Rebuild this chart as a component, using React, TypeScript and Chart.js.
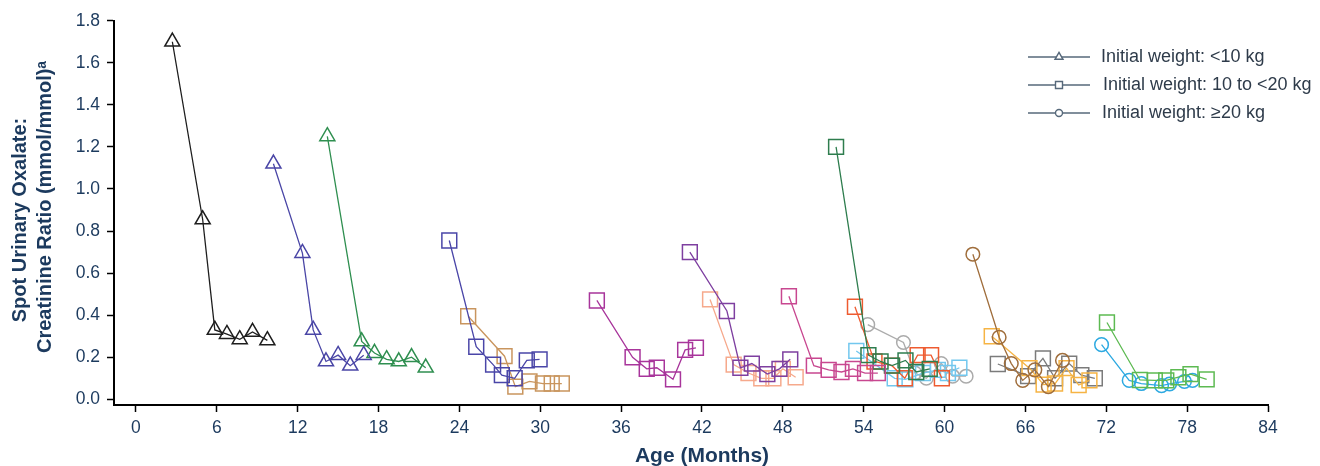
import React, { useEffect, useRef } from "react";
import { Chart, registerables } from "chart.js";

Chart.register(...registerables);

// ---- axis ticks ----
const xTickValues = [0, 6, 12, 18, 24, 30, 36, 42, 48, 54, 60, 66, 72, 78, 84];
const yTickValues = [0, 0.2, 0.4, 0.6, 0.8, 1.0, 1.2, 1.4, 1.6, 1.8];

// ---- labels ----
const xTitle = "Age (Months)";
const yTitleLines = ["Spot Urinary Oxalate:", "Creatinine Ratio (mmol/mmol)\u1d43"];
const groupLabels = ["Initial weight: <10 kg", "Initial weight: 10 to <20 kg", "Initial weight: \u226520 kg"];

// ---- patient data (age in months, ratio in mmol/mmol) ----
const p01Age = [2.7, 4.95, 5.85, 6.75, 7.7, 8.65, 9.75];
const p01Ratio = [1.7, 0.855, 0.33, 0.31, 0.285, 0.32, 0.28];
const p02Age = [10.2, 12.35, 13.15, 14.1, 15.0, 15.9, 16.9];
const p02Ratio = [1.12, 0.695, 0.33, 0.18, 0.21, 0.16, 0.21];
const p03Age = [14.2, 16.75, 17.7, 18.6, 19.5, 20.45, 21.5];
const p03Ratio = [1.25, 0.275, 0.22, 0.19, 0.18, 0.2, 0.15];
const p04Age = [23.25, 25.25, 26.5, 27.15, 28.1, 29.0, 29.95];
const p04Ratio = [0.755, 0.25, 0.165, 0.115, 0.1, 0.185, 0.19];
const p05Age = [24.65, 27.35, 28.15, 29.2, 30.2, 30.85, 31.6];
const p05Ratio = [0.395, 0.205, 0.06, 0.085, 0.075, 0.075, 0.075];
const p06Age = [34.2, 36.85, 37.9, 38.65, 39.85, 40.75, 41.55];
const p06Ratio = [0.47, 0.2, 0.145, 0.15, 0.095, 0.235, 0.245];
const p07Age = [41.1, 43.85, 44.85, 45.7, 46.85, 47.75, 48.55];
const p07Ratio = [0.7, 0.42, 0.15, 0.17, 0.12, 0.145, 0.19];
const p08Age = [42.6, 44.35, 45.45, 46.4, 47.3, 48.0, 48.95];
const p08Ratio = [0.475, 0.165, 0.125, 0.1, 0.1, 0.145, 0.105];
const p09Age = [48.45, 50.3, 51.4, 52.35, 53.2, 54.1, 55.05];
const p09Ratio = [0.49, 0.16, 0.14, 0.13, 0.145, 0.125, 0.125];
const p10Age = [51.95, 54.35, 55.25, 56.1, 57.1, 57.9, 58.9];
const p10Ratio = [1.2, 0.21, 0.18, 0.16, 0.185, 0.13, 0.145];
const p11Age = [53.35, 54.8, 56.1, 57.05, 58.0, 59.0, 59.8];
const p11Ratio = [0.44, 0.18, 0.16, 0.1, 0.21, 0.21, 0.1];
const p12Age = [53.45, 56.3, 57.1, 58.4, 59.5, 60.25, 61.1];
const p12Ratio = [0.23, 0.1, 0.095, 0.125, 0.14, 0.125, 0.15];
const p13Age = [54.3, 56.95, 57.8, 58.65, 59.75, 60.6, 61.6];
const p13Ratio = [0.355, 0.27, 0.125, 0.1, 0.17, 0.11, 0.11];
const p14Age = [62.1, 64.05, 64.95, 65.8, 66.7, 67.7, 68.75];
const p14Ratio = [0.69, 0.295, 0.17, 0.09, 0.14, 0.06, 0.185];
const p15Age = [63.5, 66.3, 67.35, 68.2, 69.05, 69.95, 70.75];
const p15Ratio = [0.3, 0.148, 0.07, 0.075, 0.148, 0.068, 0.09];
const p16Age = [63.95, 66.2, 67.3, 68.2, 69.25, 70.15, 71.15];
const p16Ratio = [0.168, 0.11, 0.195, 0.1, 0.17, 0.115, 0.1];
const p17Age = [72.05, 74.5, 75.6, 76.45, 77.35, 78.25, 79.45];
const p17Ratio = [0.365, 0.092, 0.09, 0.09, 0.105, 0.12, 0.095];
const p18Age = [71.65, 73.7, 74.6, 76.1, 76.7, 77.8, 78.4];
const p18Ratio = [0.26, 0.09, 0.075, 0.065, 0.073, 0.085, 0.09];

// weight group of each patient: 0 = <10 kg, 1 = 10 to <20 kg, 2 = >=20 kg
const patientGroups = [0, 0, 0, 1, 1, 1, 1, 1, 1, 1, 1, 1, 2, 2, 1, 1, 1, 2];
const patientAges = [p01Age, p02Age, p03Age, p04Age, p05Age, p06Age, p07Age, p08Age, p09Age, p10Age, p11Age, p12Age, p13Age, p14Age, p15Age, p16Age, p17Age, p18Age];
const patientRatios = [p01Ratio, p02Ratio, p03Ratio, p04Ratio, p05Ratio, p06Ratio, p07Ratio, p08Ratio, p09Ratio, p10Ratio, p11Ratio, p12Ratio, p13Ratio, p14Ratio, p15Ratio, p16Ratio, p17Ratio, p18Ratio];

// ---- styles ----
const patientColors = [
  "#1e1e1e", "#4a46a6", "#2f8f50", "#4a46a8", "#c9955e", "#a8359b",
  "#7e3fa0", "#f6a98c", "#c84790", "#2e7d4e", "#ee5b30", "#72c7ee",
  "#ababab", "#a06e3c", "#f6b444", "#7b7b7b", "#5dba52", "#2da9e1",
];
const groupStyles = ["triangle", "rect", "circle"];
const groupRadius = [8.7, 10.5, 6.8];
const navy = "#1c3a5e";
const FONT = "'Liberation Sans', Arial, Helvetica, sans-serif";

const titlesAndLegend = {
  id: "titlesAndLegend",
  afterDraw(chart: any) {
    const ctx = chart.ctx;
    const xs = chart.scales.x;
    ctx.save();
    // x title
    ctx.fillStyle = navy;
    ctx.font = `bold 21px ${FONT}`;
    ctx.textAlign = "center";
    ctx.textBaseline = "alphabetic";
    ctx.fillText(xTitle, xs.getPixelForValue(42), 462);
    // y title
    const yCenters = [[20, 220], [45, 207]];
    ctx.font = `bold 20px ${FONT}`;
    ctx.textBaseline = "middle";
    yTitleLines.forEach((t, i) => {
      ctx.save();
      ctx.translate(yCenters[i][0], yCenters[i][1]);
      ctx.rotate(-Math.PI / 2);
      ctx.fillText(t, 0, 0);
      ctx.restore();
    });
    // legend
    const legendColor = "#56687a";
    const rows = [57, 85, 113];
    const textX = [1101, 1103, 1102];
    groupLabels.forEach((lab, i) => {
      const y = rows[i];
      ctx.strokeStyle = legendColor;
      ctx.lineWidth = 1.4;
      ctx.beginPath();
      ctx.moveTo(1028, y);
      ctx.lineTo(1090, y);
      ctx.stroke();
      ctx.fillStyle = "#ffffff";
      ctx.beginPath();
      const mx = 1059;
      if (i === 0) {
        ctx.moveTo(mx, y - 4.6);
        ctx.lineTo(mx + 4, y + 2.3);
        ctx.lineTo(mx - 4, y + 2.3);
        ctx.closePath();
      } else if (i === 1) {
        ctx.rect(mx - 3.5, y - 3.5, 7, 7);
      } else {
        ctx.arc(mx, y, 3.5, 0, Math.PI * 2);
      }
      ctx.fill();
      ctx.stroke();
      ctx.fillStyle = "#2e3b4a";
      ctx.font = `18px ${FONT}`;
      ctx.textAlign = "left";
      ctx.textBaseline = "middle";
      ctx.fillText(lab, textX[i], y);
    });
    ctx.restore();
  },
};

export default function App() {
  const ref = useRef<HTMLCanvasElement>(null);
  useEffect(() => {
    const datasets = patientAges.map((ages, i) => {
      const g = patientGroups[i];
      return {
        label: `Patient ${i + 1}`,
        data: ages.map((a, j) => ({ x: a, y: patientRatios[i][j] })),
        borderColor: patientColors[i],
        borderWidth: 1.3,
        pointStyle: groupStyles[g],
        pointRadius: groupRadius[g],
        pointBorderWidth: 1.5,
        pointBorderColor: patientColors[i],
        pointBackgroundColor: "rgba(255,255,255,0)",
        fill: false,
        tension: 0,
      };
    });
    const chart = new Chart(ref.current as HTMLCanvasElement, {
      type: "line",
      data: { datasets } as any,
      plugins: [titlesAndLegend],
      options: {
        animation: false,
        responsive: true,
        maintainAspectRatio: false,
        layout: { padding: { left: 0, right: 52, top: 20.7, bottom: 0 } },
        plugins: { legend: { display: false }, tooltip: { enabled: false }, title: { display: false } },
        scales: {
          x: {
            type: "linear",
            min: -1.63,
            max: 84,
            afterBuildTicks: (s: any) => {
              s.ticks = xTickValues.map((v) => ({ value: v }));
            },
            afterFit: (s: any) => {
              s.height = 61;
              s.paddingLeft = 0;
              s.paddingRight = 0;
            },
            grid: { drawOnChartArea: false, drawTicks: true, tickLength: 7, tickWidth: 1.5, tickColor: "#000" },
            border: { display: true, color: "#000", width: 2 },
            ticks: {
              autoSkip: false,
              maxRotation: 0,
              padding: 6,
              color: navy,
              font: { family: FONT, size: 17.5 },
              callback: (v: any) => String(v),
            },
          },
          y: {
            type: "linear",
            min: -0.027,
            max: 1.8,
            afterBuildTicks: (s: any) => {
              s.ticks = yTickValues.map((v) => ({ value: v }));
            },
            afterFit: (s: any) => {
              s.width = 114;
              s.paddingTop = 0;
              s.paddingBottom = 0;
            },
            grid: { drawOnChartArea: false, drawTicks: true, tickLength: 7, tickWidth: 1.5, tickColor: "#000" },
            border: { display: true, color: "#000", width: 2 },
            ticks: {
              autoSkip: false,
              padding: 7,
              color: navy,
              font: { family: FONT, size: 17.5 },
              callback: (v: any) => Number(v).toFixed(1),
            },
          },
        },
      } as any,
    });
    return () => chart.destroy();
  }, []);
  return (
    <div style={{ position: "fixed", left: 0, top: 0, width: 1320, height: 466, background: "#fff" }}>
      <canvas ref={ref} />
    </div>
  );
}
